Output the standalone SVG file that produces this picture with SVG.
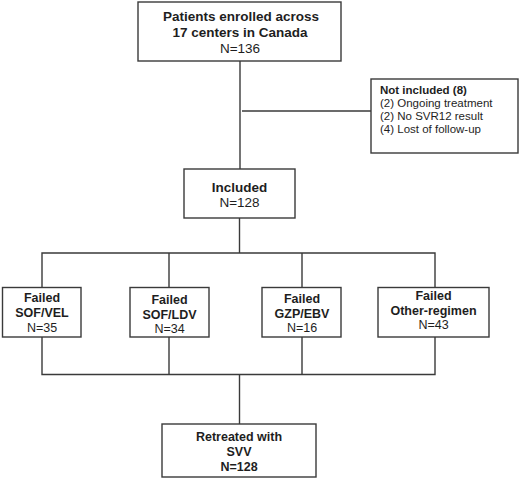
<svg xmlns="http://www.w3.org/2000/svg" width="520" height="478" viewBox="0 0 520 478">
<style>
.box{fill:#fff;stroke:#3a3a3a;stroke-width:1.4}
.ln{fill:none;stroke:#3a3a3a;stroke-width:1.4}
text{font-family:"Liberation Sans",Arial,sans-serif;fill:#1e1e1e}
.b{font-weight:bold;font-size:13.5px;text-anchor:middle}
.n{font-size:13.5px;text-anchor:middle}
.bs{font-weight:bold;font-size:12.5px;text-anchor:middle}
.ns{font-size:12.5px;text-anchor:middle}
.side{font-size:11.5px}
</style>
<rect width="520" height="478" fill="#fff"/>
<g id="connectors">
<path class="ln" d="M240 61V169"/>
<path class="ln" d="M242 111H371"/>
<path class="ln" d="M239.5 218V253"/>
<path class="ln" d="M42 288V253H435V288"/>
<path class="ln" d="M169 253V288M302 253V288"/>
<path class="ln" d="M42 337V374.5H435V337"/>
<path class="ln" d="M169 337V374.5M302 337V374.5"/>
<path class="ln" d="M239.5 374.5V424"/>
</g>
<g id="enrolled">
<rect class="box" x="138" y="2" width="203" height="59"/>
<text class="b" x="241" y="21">Patients enrolled across</text>
<text class="b" x="240" y="37">17 centers in Canada</text>
<text class="n" x="240" y="53">N=136</text>
</g>
<g id="not-included">
<rect class="box" x="371" y="79" width="147" height="74"/>
<text class="side" x="380" y="94" font-weight="bold">Not included (8)</text>
<text class="side" x="380" y="107">(2) Ongoing treatment</text>
<text class="side" x="380" y="120">(2) No SVR12 result</text>
<text class="side" x="380" y="133">(4) Lost of follow-up</text>
</g>
<g id="included">
<rect class="box" x="184" y="169" width="111" height="49"/>
<text class="b" x="239.5" y="192">Included</text>
<text class="n" x="239.5" y="207">N=128</text>
</g>
<g id="sofvel">
<rect class="box" x="2.5" y="287.5" width="78.5" height="49.5"/>
<text class="bs" x="42" y="302">Failed</text>
<text class="bs" x="42" y="317">SOF/VEL</text>
<text class="ns" x="42" y="332">N=35</text>
</g>
<g id="sofldv">
<rect class="box" x="130" y="287.5" width="79" height="49.5"/>
<text class="bs" x="169.5" y="304">Failed</text>
<text class="bs" x="169.5" y="319">SOF/LDV</text>
<text class="ns" x="169.5" y="333">N=34</text>
</g>
<g id="gzpebv">
<rect class="box" x="262" y="287.5" width="79" height="49.5"/>
<text class="bs" x="302" y="303">Failed</text>
<text class="bs" x="302" y="318">GZP/EBV</text>
<text class="ns" x="302" y="332">N=16</text>
</g>
<g id="other">
<rect class="box" x="378" y="287.5" width="111" height="49.5"/>
<text class="bs" x="433.5" y="300">Failed</text>
<text class="bs" x="433.5" y="315">Other-regimen</text>
<text class="ns" x="433.5" y="329">N=43</text>
</g>
<g id="retreated">
<rect class="box" x="162" y="424" width="154" height="53"/>
<text class="bs" x="239" y="441">Retreated with</text>
<text class="bs" x="239" y="456">SVV</text>
<text class="bs" x="239" y="471">N=128</text>
</g>
</svg>
